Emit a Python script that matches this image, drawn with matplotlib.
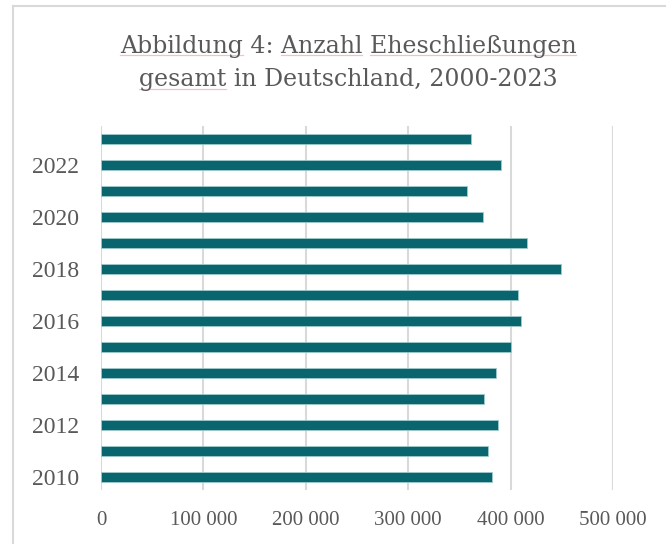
import matplotlib
matplotlib.use("Agg")
import matplotlib.pyplot as plt
from matplotlib.lines import Line2D

years = [2010, 2011, 2012, 2013, 2014, 2015, 2016, 2017, 2018, 2019, 2020, 2021, 2022, 2023]
marriages = [382047, 377816, 387423, 373655, 385952, 400115, 410426, 407466,
             449466, 416324, 373304, 357785, 390743, 360979]
title_lines = ["Abbildung 4: Anzahl Eheschließungen", "gesamt in Deutschland, 2000-2023"]
spell_marked = [["Abbildung", "Anzahl", "Eheschließungen"], ["gesamt"]]
x_ticks = [0, 100000, 200000, 300000, 400000, 500000]
x_tick_labels = ["0", "100 000", "200 000", "300 000", "400 000", "500 000"]

W, H = 666, 544
fig = plt.figure(figsize=(W / 100, H / 100), dpi=100)
fig.patch.set_facecolor("white")

ax = fig.add_axes([101 / W, 1 - 490 / H, (613 - 101) / W, (490 - 126) / H])
ypos = list(range(len(years)))
ax.barh(ypos, marriages, height=0.36, color="#09656E", edgecolor="#9fc9cd",
        linewidth=0.6, zorder=3)
ax.set_xlim(0, 500000)
ax.set_ylim(-0.5, len(years) - 0.5)

ax.set_xticks(x_ticks)
ax.set_xticklabels(x_tick_labels)
even_idx = [i for i, y in enumerate(years) if y % 2 == 0]
ax.set_yticks(even_idx)
ax.set_yticklabels([str(years[i]) for i in even_idx])

font = "Liberation Serif"
for lab in ax.get_xticklabels():
    lab.set_fontfamily(font)
    lab.set_fontsize(15)
    lab.set_color("#595959")
for lab in ax.get_yticklabels():
    lab.set_fontfamily(font)
    lab.set_fontsize(17)
    lab.set_color("#595959")
ax.tick_params(axis="both", length=0)
ax.tick_params(axis="x", pad=15)
ax.tick_params(axis="y", pad=16)

ax.grid(axis="x", color="#d9d9d9", linewidth=1.5, zorder=0)
for s in ax.spines.values():
    s.set_visible(False)

# title, line by line, with faint spell-check underlines
title_font = dict(fontfamily="DejaVu Serif", fontsize=17, color="#595959")
baselines = [52.5, 86.5]
cx = 348
renderer = fig.canvas.get_renderer()
for line, base_y, words in zip(title_lines, baselines, spell_marked):
    t = fig.text(cx / W, 1 - base_y / H, line, ha="center", va="baseline", **title_font)
    bb = t.get_window_extent(renderer)
    for w in words:
        idx = line.index(w)
        tmp = fig.text(0, 0, line[:idx + len(w)], **title_font)
        end_w = tmp.get_window_extent(renderer).width
        tmp.remove()
        tmp = fig.text(0, 0, w, **title_font)
        word_w = tmp.get_window_extent(renderer).width
        tmp.remove()
        x1 = bb.x0 + end_w
        x0 = x1 - word_w
        uy = 1 - (base_y + 2.8) / H
        fig.add_artist(Line2D([x0 / W, x1 / W], [uy, uy], color="#f5c0c0",
                              linewidth=0.9, transform=fig.transFigure))

# outer frame (top & left)
fig.add_artist(Line2D([13 / W, 13 / W], [0, 1 - 6 / H], color="#d9d9d9", linewidth=1.5,
                      transform=fig.transFigure))
fig.add_artist(Line2D([13 / W, 1], [1 - 6 / H, 1 - 6 / H], color="#d9d9d9", linewidth=1.5,
                      transform=fig.transFigure))

fig.savefig("out.png", dpi=100)
